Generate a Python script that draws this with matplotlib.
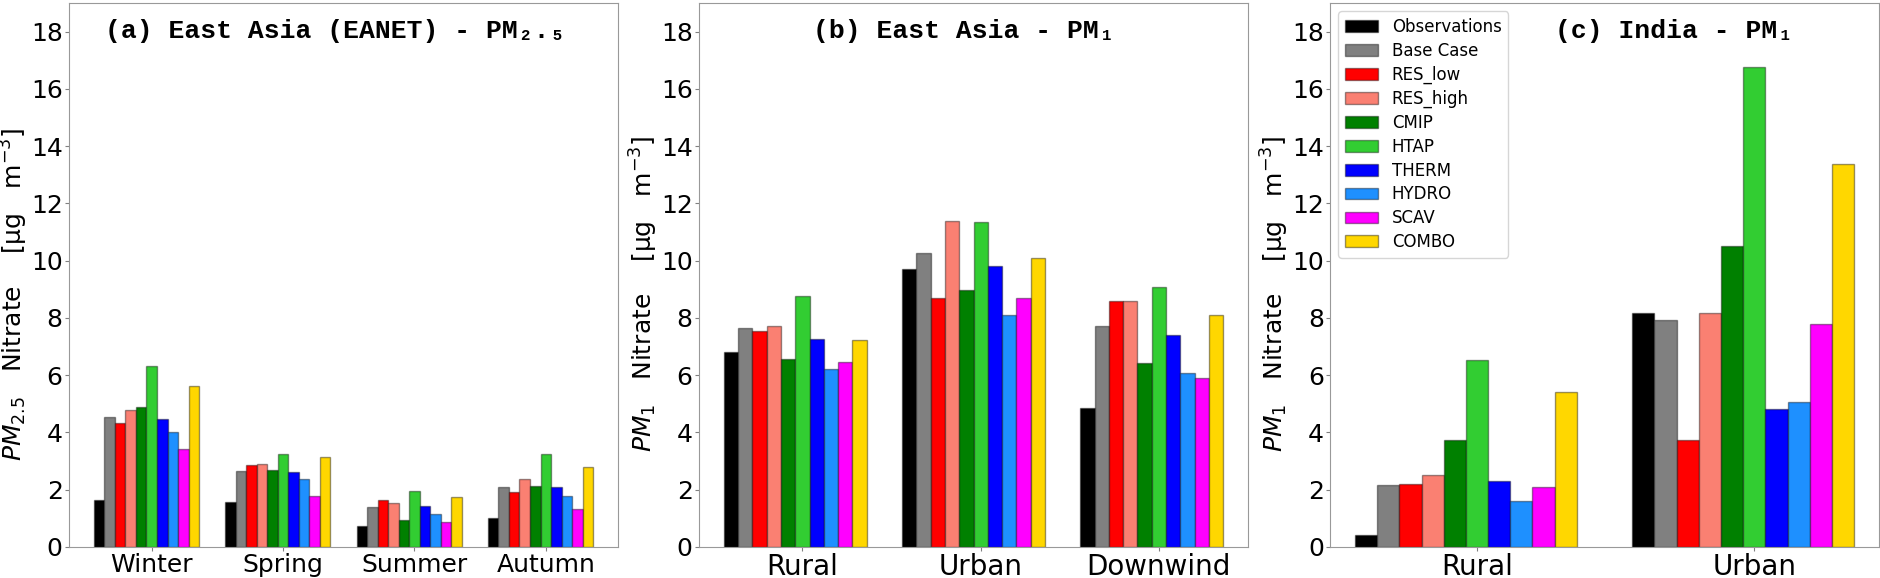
import matplotlib
matplotlib.use("Agg")
import matplotlib.pyplot as plt
import numpy as np

series = ["Observations", "Base Case", "RES_low", "RES_high", "CMIP", "HTAP",
          "THERM", "HYDRO", "SCAV", "COMBO"]
colors = ["black", "gray", "red", "salmon", "green", "limegreen",
          "blue", "dodgerblue", "magenta", "gold"]

# Panel (a): East Asia (EANET) PM2.5
cats_a = ["Winter", "Spring", "Summer", "Autumn"]
obs_a   = [1.63, 1.57, 0.72, 1.00]
base_a  = [4.55, 2.65, 1.38, 2.08]
reslo_a = [4.34, 2.88, 1.64, 1.93]
reshi_a = [4.77, 2.89, 1.53, 2.36]
cmip_a  = [4.90, 2.69, 0.93, 2.14]
htap_a  = [6.33, 3.26, 1.95, 3.26]
therm_a = [4.48, 2.62, 1.42, 2.08]
hydro_a = [4.02, 2.36, 1.17, 1.79]
scav_a  = [3.44, 1.78, 0.86, 1.31]
combo_a = [5.61, 3.16, 1.73, 2.78]

# Panel (b): East Asia PM1
cats_b = ["Rural", "Urban", "Downwind"]
obs_b   = [6.80, 9.70, 4.84]
base_b  = [7.65, 10.27, 7.73]
reslo_b = [7.56, 8.71, 8.58]
reshi_b = [7.72, 11.37, 8.60]
cmip_b  = [6.57, 8.98, 6.43]
htap_b  = [8.76, 11.34, 9.08]
therm_b = [7.26, 9.81, 7.40]
hydro_b = [6.21, 8.12, 6.09]
scav_b  = [6.47, 8.71, 5.91]
combo_b = [7.24, 10.08, 8.09]

# Panel (c): India PM1
cats_c = ["Rural", "Urban"]
obs_c   = [0.41, 8.16]
base_c  = [2.18, 7.92]
reslo_c = [2.19, 3.73]
reshi_c = [2.53, 8.17]
cmip_c  = [3.73, 10.53]
htap_c  = [6.54, 16.78]
therm_c = [2.31, 4.82]
hydro_c = [1.62, 5.08]
scav_c  = [2.10, 7.80]
combo_c = [5.43, 13.36]

titles = ["(a) East Asia (EANET) - PM\u2082.\u2085",
          "(b) East Asia - PM\u2081",
          "(c) India - PM\u2081"]
ylabels = [r"$PM_{2.5}$   Nitrate    [$\mathregular{\mu}$g   m$^{-3}$]",
           r"$PM_1$   Nitrate    [$\mathregular{\mu}$g   m$^{-3}$]",
           r"$PM_1$   Nitrate    [$\mathregular{\mu}$g   m$^{-3}$]"]

panels = [
    (cats_a, [obs_a, base_a, reslo_a, reshi_a, cmip_a, htap_a, therm_a, hydro_a, scav_a, combo_a]),
    (cats_b, [obs_b, base_b, reslo_b, reshi_b, cmip_b, htap_b, therm_b, hydro_b, scav_b, combo_b]),
    (cats_c, [obs_c, base_c, reslo_c, reshi_c, cmip_c, htap_c, therm_c, hydro_c, scav_c, combo_c]),
]
xtick_sizes = [18, 20, 20]
title_x = [0.485, 0.483, 0.627]

fig = plt.figure(figsize=(18.8, 5.78), dpi=100)
lefts = [69 / 1880, 699 / 1880, 1330 / 1880]
bottom = 31 / 578
height = 544 / 578
width = 549 / 1880

w = 0.08
for k, (cats, vals) in enumerate(panels):
    ax = fig.add_axes([lefts[k], bottom, width, height])
    x = np.arange(len(cats))
    for i, (v, c, name) in enumerate(zip(vals, colors, series)):
        ax.bar(x + (i - 5) * w, v, width=w, color=c,
               edgecolor=(0, 0, 0, 0.4), linewidth=1.0, label=name)
    ax.set_ylim(0, 19)
    ax.set_yticks(np.arange(0, 19, 2))
    ax.set_xticks(x)
    ax.set_xticklabels(cats, fontsize=xtick_sizes[k])
    ax.tick_params(axis="y", labelsize=18, length=3, pad=1.5, color="gray")
    ax.tick_params(axis="x", length=3, pad=1, color="gray")
    for s in ax.spines.values():
        s.set_color("#999999")
    ax.set_ylabel(ylabels[k], fontsize=18, labelpad=0.5)
    ax.yaxis.label.set_y(0.465)
    ax.text(title_x[k], 0.948, titles[k], transform=ax.transAxes, ha="center", va="center",
            fontsize=19, fontweight="bold",
            family=["Liberation Mono", "DejaVu Sans Mono"])
    if k == 2:
        ax.legend(loc="upper left", fontsize=12, labelspacing=0.35)

fig.savefig("out.png", dpi=100)
